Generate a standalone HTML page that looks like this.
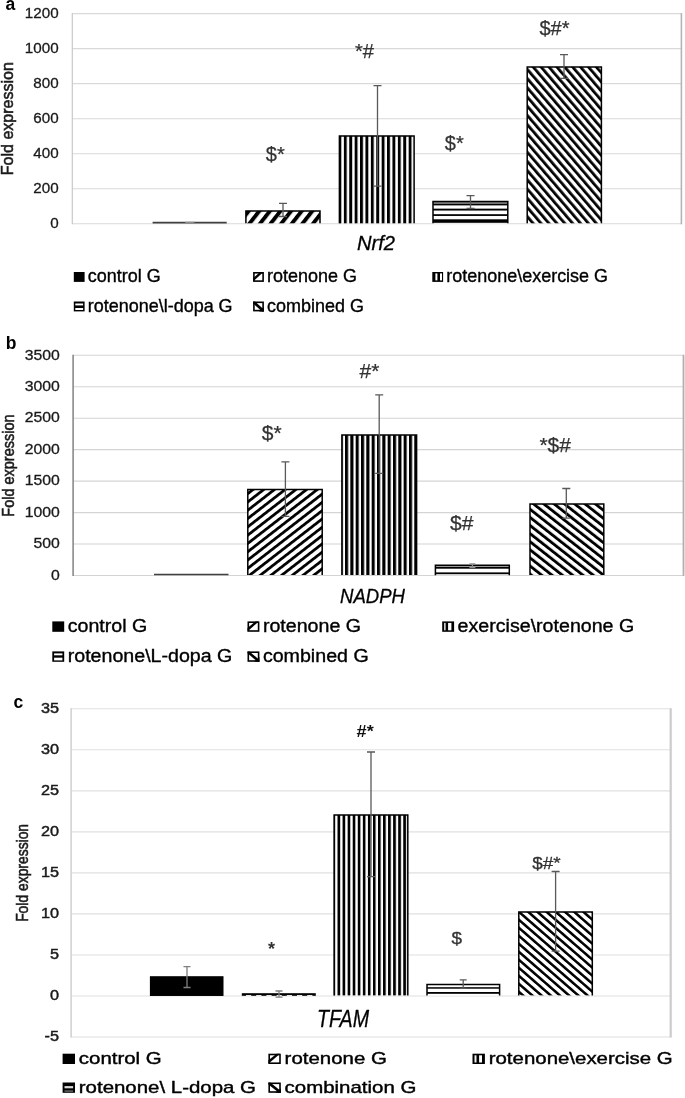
<!DOCTYPE html>
<html><head><meta charset="utf-8"><title>Figure</title>
<style>html,body{margin:0;padding:0;background:#fff;}body>svg{display:block;font-family:"Liberation Sans",sans-serif;filter:blur(0.35px);}</style>
</head><body>
<svg width="685" height="1098" viewBox="0 0 685 1098" font-family="Liberation Sans, sans-serif">
<rect width="685" height="1098" fill="#fff"/>
<defs>
<pattern id="aF" patternUnits="userSpaceOnUse" width="8.337" height="10" patternTransform="rotate(38.14) translate(340.674,0)"><rect x="0" y="0" width="3.918" height="10" fill="#000"/></pattern>
<pattern id="aB" patternUnits="userSpaceOnUse" width="5.994" height="10" patternTransform="rotate(-40.65) translate(359.476,0)"><rect x="0" y="0" width="2.757" height="10" fill="#000"/></pattern>
<pattern id="bF" patternUnits="userSpaceOnUse" width="6.558" height="10" patternTransform="rotate(52.20) translate(547.097,0)"><rect x="0" y="0" width="2.754" height="10" fill="#000"/></pattern>
<pattern id="bB" patternUnits="userSpaceOnUse" width="6.367" height="10" patternTransform="rotate(-51.82) translate(-61.376,0)"><rect x="0" y="0" width="2.865" height="10" fill="#000"/></pattern>
<pattern id="cF" patternUnits="userSpaceOnUse" width="6.037" height="10" patternTransform="rotate(48.99) translate(-1.509,0)"><rect x="0" y="0" width="3.018" height="10" fill="#000"/></pattern>
<pattern id="cB" patternUnits="userSpaceOnUse" width="6.037" height="10" patternTransform="rotate(-48.99) translate(-336.756,0)"><rect x="0" y="0" width="2.535" height="10" fill="#000"/></pattern>
<pattern id="aV" patternUnits="userSpaceOnUse" x="338.45" width="5.4" height="10"><rect x="0" y="0" width="2.9" height="10" fill="#000"/></pattern>
<pattern id="bV" patternUnits="userSpaceOnUse" x="339.67" width="5.33" height="10"><rect x="0" y="0" width="3.1" height="10" fill="#000"/></pattern>
<pattern id="cV" patternUnits="userSpaceOnUse" x="332.44" width="5.06" height="10"><rect x="0" y="0" width="2.7" height="10" fill="#000"/></pattern>
<pattern id="aH" patternUnits="userSpaceOnUse" y="203.7" width="10" height="5.43"><rect x="0" y="0" width="10" height="1.9" fill="#000"/></pattern>
<pattern id="bH" patternUnits="userSpaceOnUse" y="567.0" width="10" height="5.5"><rect x="0" y="0" width="10" height="1.9" fill="#000"/></pattern>
<pattern id="cH" patternUnits="userSpaceOnUse" y="987.5" width="10" height="5.5"><rect x="0" y="0" width="10" height="1.9" fill="#000"/></pattern>
</defs>
<line x1="72.3" x2="681.4" y1="13.60" y2="13.60" stroke="#d9d9d9" stroke-width="1.1"/>
<line x1="72.3" x2="681.4" y1="48.63" y2="48.63" stroke="#d9d9d9" stroke-width="1.1"/>
<line x1="72.3" x2="681.4" y1="83.67" y2="83.67" stroke="#d9d9d9" stroke-width="1.1"/>
<line x1="72.3" x2="681.4" y1="118.70" y2="118.70" stroke="#d9d9d9" stroke-width="1.1"/>
<line x1="72.3" x2="681.4" y1="153.73" y2="153.73" stroke="#d9d9d9" stroke-width="1.1"/>
<line x1="72.3" x2="681.4" y1="188.77" y2="188.77" stroke="#d9d9d9" stroke-width="1.1"/>
<line x1="72.3" x2="681.4" y1="223.80" y2="223.80" stroke="#d9d9d9" stroke-width="1.1"/>
<line x1="72.3" x2="72.3" y1="13.10" y2="224.30" stroke="#c8c8c8" stroke-width="1.2"/>
<line x1="681.4" x2="681.4" y1="13.10" y2="224.30" stroke="#b3b3b3" stroke-width="1.6"/>
<text transform="translate(58.60,18.24) scale(1.000,1)" font-size="15.2" text-anchor="end" fill="#1a1a1a" font-weight="normal" font-style="normal"  stroke="#1a1a1a" stroke-width="0.3">1200</text>
<text transform="translate(58.60,53.27) scale(1.000,1)" font-size="15.2" text-anchor="end" fill="#1a1a1a" font-weight="normal" font-style="normal"  stroke="#1a1a1a" stroke-width="0.3">1000</text>
<text transform="translate(58.60,88.31) scale(1.000,1)" font-size="15.2" text-anchor="end" fill="#1a1a1a" font-weight="normal" font-style="normal"  stroke="#1a1a1a" stroke-width="0.3">800</text>
<text transform="translate(58.60,123.34) scale(1.000,1)" font-size="15.2" text-anchor="end" fill="#1a1a1a" font-weight="normal" font-style="normal"  stroke="#1a1a1a" stroke-width="0.3">600</text>
<text transform="translate(58.60,158.37) scale(1.000,1)" font-size="15.2" text-anchor="end" fill="#1a1a1a" font-weight="normal" font-style="normal"  stroke="#1a1a1a" stroke-width="0.3">400</text>
<text transform="translate(58.60,193.41) scale(1.000,1)" font-size="15.2" text-anchor="end" fill="#1a1a1a" font-weight="normal" font-style="normal"  stroke="#1a1a1a" stroke-width="0.3">200</text>
<text transform="translate(58.60,228.44) scale(1.000,1)" font-size="15.2" text-anchor="end" fill="#1a1a1a" font-weight="normal" font-style="normal"  stroke="#1a1a1a" stroke-width="0.3">0</text>
<text transform="translate(5.60,9.60) scale(1.000,1)" font-size="17.5" text-anchor="start" fill="#000" font-weight="bold" font-style="normal" >a</text>
<text transform="translate(13.30,118.70) rotate(-90) scale(1.000,1)" font-size="16" text-anchor="middle" fill="#1a1a1a" font-weight="normal" stroke="#1a1a1a" stroke-width="0.55">Fold expression</text>
<line x1="152.6" x2="226.7" y1="222.6" y2="222.6" stroke="#404040" stroke-width="1.6"/>
<line x1="185.2" x2="194.3" y1="222.6" y2="222.6" stroke="#8c8c8c" stroke-width="1.6"/>
<rect x="245.90" y="210.90" width="74.10" height="12.40" fill="white"/>
<rect x="245.90" y="210.90" width="74.10" height="12.40" fill="url(#aF)"/>
<path d="M245.90 223.30V210.90H320.00V223.30" fill="none" stroke="#000" stroke-width="1.5"/>
<rect x="339.40" y="135.90" width="74.70" height="87.40" fill="white"/>
<rect x="339.40" y="135.90" width="74.70" height="87.40" fill="url(#aV)"/>
<path d="M339.40 223.30V135.90H414.10V223.30" fill="none" stroke="#000" stroke-width="1.5"/>
<rect x="433.00" y="201.50" width="74.80" height="21.80" fill="white"/>
<rect x="433.00" y="201.50" width="74.80" height="2.20" fill="#808080"/>
<rect x="433.00" y="203.70" width="74.80" height="1.70" fill="#000"/>
<rect x="433.00" y="208.65" width="74.80" height="1.90" fill="#000"/>
<rect x="433.00" y="214.20" width="74.80" height="1.75" fill="#000"/>
<rect x="433.00" y="219.30" width="74.80" height="3.50" fill="#000"/>
<path d="M433.00 223.30V201.50H507.80V223.30" fill="none" stroke="#000" stroke-width="1.5"/>
<rect x="527.20" y="66.90" width="74.20" height="156.40" fill="white"/>
<rect x="527.20" y="66.90" width="74.20" height="156.40" fill="url(#aB)"/>
<path d="M527.20 223.30V66.90H601.40V223.30" fill="none" stroke="#000" stroke-width="1.5"/>
<path d="M283.00 203.40V216.50M279.00 203.40H287.00M279.00 216.50H287.00" stroke="#595959" stroke-width="1.3" fill="none"/>
<path d="M377.50 85.60V186.20M373.50 85.60H381.50M373.50 186.20H381.50" stroke="#595959" stroke-width="1.3" fill="none"/>
<path d="M470.50 195.60V208.50M466.50 195.60H474.50M466.50 208.50H474.50" stroke="#595959" stroke-width="1.3" fill="none"/>
<path d="M564.00 54.60V78.30M560.00 54.60H568.00M560.00 78.30H568.00" stroke="#595959" stroke-width="1.3" fill="none"/>
<text transform="translate(265.80,160.50) scale(1.000,1)" font-size="20" text-anchor="start" fill="#333" font-weight="normal" font-style="normal"  stroke="#333" stroke-width="0.25">$*</text>
<text transform="translate(354.90,58.30) scale(1.000,1)" font-size="20" text-anchor="start" fill="#333" font-weight="normal" font-style="normal"  stroke="#333" stroke-width="0.25">*#</text>
<text transform="translate(444.80,150.00) scale(1.000,1)" font-size="20" text-anchor="start" fill="#333" font-weight="normal" font-style="normal"  stroke="#333" stroke-width="0.25">$*</text>
<text transform="translate(539.40,34.80) scale(1.000,1)" font-size="20" text-anchor="start" fill="#333" font-weight="normal" font-style="normal"  stroke="#333" stroke-width="0.25">$#*</text>
<text transform="translate(357.00,250.30) scale(1.008,1)" font-size="20" text-anchor="start" fill="#000" font-weight="normal" font-style="italic"  stroke="#000" stroke-width="0.3">Nrf2</text>
<rect x="73.80" y="272.00" width="10.80" height="9.90" fill="#000"/>
<text transform="translate(87.80,282.30) scale(1.015,1)" font-size="17.7" text-anchor="start" fill="#000" font-weight="normal" font-style="normal"  stroke="#000" stroke-width="0.35">control G</text>
<rect x="253.10" y="272.00" width="10.80" height="9.90" fill="#fff"/>
<path d="M253.10 278.22L260.04 272.00H263.44L253.10 281.62z" fill="#000"/>
<rect x="253.90" y="272.80" width="9.20" height="8.30" fill="none" stroke="#000" stroke-width="1.6"/>
<text transform="translate(267.10,282.30) scale(1.015,1)" font-size="17.7" text-anchor="start" fill="#000" font-weight="normal" font-style="normal"  stroke="#000" stroke-width="0.35">rotenone G</text>
<rect x="432.30" y="272.00" width="10.80" height="9.90" fill="#000"/>
<rect x="435.40" y="273.40" width="2.00" height="7.00" fill="#fff"/>
<rect x="440.00" y="273.40" width="2.00" height="7.00" fill="#fff"/>
<text transform="translate(446.30,282.30) scale(1.015,1)" font-size="17.7" text-anchor="start" fill="#000" font-weight="normal" font-style="normal"  stroke="#000" stroke-width="0.35">rotenone\exercise G</text>
<rect x="73.80" y="301.50" width="10.80" height="9.90" fill="#000"/>
<rect x="75.30" y="303.50" width="7.80" height="1.90" fill="#fff"/>
<rect x="75.30" y="308.00" width="7.80" height="2.00" fill="#fff"/>
<text transform="translate(87.80,311.80) scale(1.015,1)" font-size="17.7" text-anchor="start" fill="#000" font-weight="normal" font-style="normal"  stroke="#000" stroke-width="0.35">rotenone\l-dopa G</text>
<rect x="253.10" y="301.50" width="10.80" height="9.90" fill="#fff"/>
<path d="M253.10 301.50H255.00L263.90 309.50V311.40H262.00L253.10 303.40z" fill="#000"/>
<path d="M263.90 311.40H259.04L263.90 306.94z" fill="#000"/>
<rect x="253.90" y="302.30" width="9.20" height="8.30" fill="none" stroke="#000" stroke-width="1.6"/>
<text transform="translate(267.10,311.80) scale(1.015,1)" font-size="17.7" text-anchor="start" fill="#000" font-weight="normal" font-style="normal"  stroke="#000" stroke-width="0.35">combined G</text>
<line x1="73.1" x2="683.5" y1="355.30" y2="355.30" stroke="#d4d4d4" stroke-width="1.1"/>
<line x1="73.1" x2="683.5" y1="386.76" y2="386.76" stroke="#d4d4d4" stroke-width="1.1"/>
<line x1="73.1" x2="683.5" y1="418.21" y2="418.21" stroke="#d4d4d4" stroke-width="1.1"/>
<line x1="73.1" x2="683.5" y1="449.67" y2="449.67" stroke="#d4d4d4" stroke-width="1.1"/>
<line x1="73.1" x2="683.5" y1="481.13" y2="481.13" stroke="#d4d4d4" stroke-width="1.1"/>
<line x1="73.1" x2="683.5" y1="512.59" y2="512.59" stroke="#d4d4d4" stroke-width="1.1"/>
<line x1="73.1" x2="683.5" y1="544.04" y2="544.04" stroke="#d4d4d4" stroke-width="1.1"/>
<line x1="73.1" x2="683.5" y1="575.50" y2="575.50" stroke="#d4d4d4" stroke-width="1.1"/>
<line x1="73.1" x2="73.1" y1="354.80" y2="576.00" stroke="#8a8a8a" stroke-width="1.6"/>
<line x1="683.5" x2="683.5" y1="354.80" y2="576.00" stroke="#b0b0b0" stroke-width="1.8"/>
<text transform="translate(59.80,359.53) scale(1.080,1)" font-size="14.6" text-anchor="end" fill="#1a1a1a" font-weight="normal" font-style="normal"  stroke="#1a1a1a" stroke-width="0.3">3500</text>
<text transform="translate(59.80,390.98) scale(1.080,1)" font-size="14.6" text-anchor="end" fill="#1a1a1a" font-weight="normal" font-style="normal"  stroke="#1a1a1a" stroke-width="0.3">3000</text>
<text transform="translate(59.80,422.44) scale(1.080,1)" font-size="14.6" text-anchor="end" fill="#1a1a1a" font-weight="normal" font-style="normal"  stroke="#1a1a1a" stroke-width="0.3">2500</text>
<text transform="translate(59.80,453.90) scale(1.080,1)" font-size="14.6" text-anchor="end" fill="#1a1a1a" font-weight="normal" font-style="normal"  stroke="#1a1a1a" stroke-width="0.3">2000</text>
<text transform="translate(59.80,485.36) scale(1.080,1)" font-size="14.6" text-anchor="end" fill="#1a1a1a" font-weight="normal" font-style="normal"  stroke="#1a1a1a" stroke-width="0.3">1500</text>
<text transform="translate(59.80,516.81) scale(1.080,1)" font-size="14.6" text-anchor="end" fill="#1a1a1a" font-weight="normal" font-style="normal"  stroke="#1a1a1a" stroke-width="0.3">1000</text>
<text transform="translate(59.80,548.27) scale(1.080,1)" font-size="14.6" text-anchor="end" fill="#1a1a1a" font-weight="normal" font-style="normal"  stroke="#1a1a1a" stroke-width="0.3">500</text>
<text transform="translate(59.80,579.73) scale(1.080,1)" font-size="14.6" text-anchor="end" fill="#1a1a1a" font-weight="normal" font-style="normal"  stroke="#1a1a1a" stroke-width="0.3">0</text>
<text transform="translate(5.80,349.30) scale(1.000,1)" font-size="17.5" text-anchor="start" fill="#000" font-weight="bold" font-style="normal" >b</text>
<text transform="translate(13.80,465.60) rotate(-90) scale(0.905,1)" font-size="16" text-anchor="middle" fill="#1a1a1a" font-weight="normal" stroke="#1a1a1a" stroke-width="0.55">Fold expression</text>
<line x1="154.0" x2="228.5" y1="574.6" y2="574.6" stroke="#404040" stroke-width="1.5"/>
<rect x="247.80" y="489.40" width="74.40" height="85.60" fill="white"/>
<rect x="247.80" y="489.40" width="74.40" height="85.60" fill="url(#bF)"/>
<path d="M247.80 575.00V489.40H322.20V575.00" fill="none" stroke="#000" stroke-width="1.5"/>
<rect x="341.90" y="435.10" width="74.70" height="139.90" fill="white"/>
<rect x="341.90" y="435.10" width="74.70" height="139.90" fill="url(#bV)"/>
<path d="M341.90 575.00V435.10H416.60V575.00" fill="none" stroke="#000" stroke-width="1.5"/>
<rect x="435.40" y="565.30" width="73.90" height="9.90" fill="white"/>
<rect x="435.40" y="565.30" width="73.90" height="1.70" fill="#9a9a9a"/>
<rect x="435.40" y="567.00" width="73.90" height="1.70" fill="#000"/>
<rect x="435.40" y="572.40" width="73.90" height="1.80" fill="#000"/>
<path d="M435.40 575.20V565.30H509.30V575.20" fill="none" stroke="#000" stroke-width="1.5"/>
<rect x="530.00" y="504.00" width="73.80" height="71.00" fill="white"/>
<rect x="530.00" y="504.00" width="73.80" height="71.00" fill="url(#bB)"/>
<path d="M530.00 575.00V504.00H603.80V575.00" fill="none" stroke="#000" stroke-width="1.5"/>
<path d="M285.40 461.80V516.40M281.40 461.80H289.40M281.40 516.40H289.40" stroke="#595959" stroke-width="1.3" fill="none"/>
<path d="M379.20 394.80V473.40M375.20 394.80H383.20M375.20 473.40H383.20" stroke="#595959" stroke-width="1.3" fill="none"/>
<path d="M472.40 564.00V567.40M469.40 564.00H475.40M469.40 567.40H475.40" stroke="#8c8c8c" stroke-width="1.3" fill="none"/>
<path d="M566.30 488.50V518.10M562.30 488.50H570.30M562.30 518.10H570.30" stroke="#595959" stroke-width="1.3" fill="none"/>
<text transform="translate(261.80,440.30) scale(1.000,1)" font-size="21" text-anchor="start" fill="#333" font-weight="normal" font-style="normal"  stroke="#333" stroke-width="0.25">$*</text>
<text transform="translate(359.60,378.30) scale(1.000,1)" font-size="21" text-anchor="start" fill="#333" font-weight="normal" font-style="normal"  stroke="#333" stroke-width="0.25">#*</text>
<text transform="translate(450.00,530.30) scale(1.000,1)" font-size="21" text-anchor="start" fill="#333" font-weight="normal" font-style="normal"  stroke="#333" stroke-width="0.25">$#</text>
<text transform="translate(539.40,452.30) scale(1.000,1)" font-size="21" text-anchor="start" fill="#333" font-weight="normal" font-style="normal"  stroke="#333" stroke-width="0.25">*$#</text>
<text transform="translate(340.00,603.00) scale(0.942,1)" font-size="19.7" text-anchor="start" fill="#000" font-weight="normal" font-style="italic"  stroke="#000" stroke-width="0.3">NADPH</text>
<rect x="52.30" y="621.40" width="11.90" height="10.40" fill="#000"/>
<text transform="translate(67.70,632.40) scale(1.122,1)" font-size="17.5" text-anchor="start" fill="#000" font-weight="normal" font-style="normal"  stroke="#000" stroke-width="0.35">control G</text>
<rect x="247.50" y="621.40" width="11.90" height="10.40" fill="#fff"/>
<path d="M247.50 628.02L255.32 621.40H258.72L247.50 631.42z" fill="#000"/>
<rect x="248.30" y="622.20" width="10.30" height="8.80" fill="none" stroke="#000" stroke-width="1.6"/>
<text transform="translate(262.90,632.40) scale(1.122,1)" font-size="17.5" text-anchor="start" fill="#000" font-weight="normal" font-style="normal"  stroke="#000" stroke-width="0.35">rotenone G</text>
<rect x="442.20" y="621.40" width="11.90" height="10.40" fill="#000"/>
<rect x="444.00" y="622.90" width="1.70" height="7.40" fill="#c8c8c8"/>
<rect x="448.10" y="622.90" width="3.30" height="7.40" fill="#fff"/>
<text transform="translate(457.60,632.40) scale(1.122,1)" font-size="17.5" text-anchor="start" fill="#000" font-weight="normal" font-style="normal"  stroke="#000" stroke-width="0.35">exercise\rotenone G</text>
<rect x="52.30" y="651.40" width="11.90" height="10.40" fill="#000"/>
<rect x="54.10" y="653.40" width="8.30" height="1.90" fill="#fff"/>
<rect x="54.10" y="657.70" width="8.30" height="2.70" fill="#fff"/>
<text transform="translate(67.70,662.40) scale(1.122,1)" font-size="17.5" text-anchor="start" fill="#000" font-weight="normal" font-style="normal"  stroke="#000" stroke-width="0.35">rotenone\L-dopa G</text>
<rect x="247.50" y="651.40" width="11.90" height="10.40" fill="#fff"/>
<path d="M247.50 651.40H249.40L259.40 659.90V661.80H257.50L247.50 653.30z" fill="#000"/>
<path d="M259.40 661.80H254.04L259.40 657.12z" fill="#000"/>
<rect x="248.30" y="652.20" width="10.30" height="8.80" fill="none" stroke="#000" stroke-width="1.6"/>
<text transform="translate(262.90,662.40) scale(1.122,1)" font-size="17.5" text-anchor="start" fill="#000" font-weight="normal" font-style="normal"  stroke="#000" stroke-width="0.35">combined G</text>
<line x1="71.1" x2="670.7" y1="708.80" y2="708.80" stroke="#e0e0e0" stroke-width="1.1"/>
<line x1="71.1" x2="670.7" y1="749.82" y2="749.82" stroke="#e0e0e0" stroke-width="1.1"/>
<line x1="71.1" x2="670.7" y1="790.85" y2="790.85" stroke="#e0e0e0" stroke-width="1.1"/>
<line x1="71.1" x2="670.7" y1="831.88" y2="831.88" stroke="#e0e0e0" stroke-width="1.1"/>
<line x1="71.1" x2="670.7" y1="872.90" y2="872.90" stroke="#e0e0e0" stroke-width="1.1"/>
<line x1="71.1" x2="670.7" y1="913.92" y2="913.92" stroke="#e0e0e0" stroke-width="1.1"/>
<line x1="71.1" x2="670.7" y1="954.95" y2="954.95" stroke="#e0e0e0" stroke-width="1.1"/>
<line x1="71.1" x2="670.7" y1="995.98" y2="995.98" stroke="#e0e0e0" stroke-width="1.1"/>
<line x1="71.1" x2="670.7" y1="1037.00" y2="1037.00" stroke="#e0e0e0" stroke-width="1.1"/>
<line x1="71.1" x2="71.1" y1="708.30" y2="1037.50" stroke="#cfcfcf" stroke-width="1.5"/>
<line x1="670.7" x2="670.7" y1="708.30" y2="1037.50" stroke="#cccccc" stroke-width="2.2"/>
<text transform="translate(59.00,713.14) scale(1.070,1)" font-size="15.2" text-anchor="end" fill="#1a1a1a" font-weight="normal" font-style="normal"  stroke="#1a1a1a" stroke-width="0.45">35</text>
<text transform="translate(59.00,754.17) scale(1.070,1)" font-size="15.2" text-anchor="end" fill="#1a1a1a" font-weight="normal" font-style="normal"  stroke="#1a1a1a" stroke-width="0.45">30</text>
<text transform="translate(59.00,795.19) scale(1.070,1)" font-size="15.2" text-anchor="end" fill="#1a1a1a" font-weight="normal" font-style="normal"  stroke="#1a1a1a" stroke-width="0.45">25</text>
<text transform="translate(59.00,836.22) scale(1.070,1)" font-size="15.2" text-anchor="end" fill="#1a1a1a" font-weight="normal" font-style="normal"  stroke="#1a1a1a" stroke-width="0.45">20</text>
<text transform="translate(59.00,877.24) scale(1.070,1)" font-size="15.2" text-anchor="end" fill="#1a1a1a" font-weight="normal" font-style="normal"  stroke="#1a1a1a" stroke-width="0.45">15</text>
<text transform="translate(59.00,918.27) scale(1.070,1)" font-size="15.2" text-anchor="end" fill="#1a1a1a" font-weight="normal" font-style="normal"  stroke="#1a1a1a" stroke-width="0.45">10</text>
<text transform="translate(59.00,959.29) scale(1.070,1)" font-size="15.2" text-anchor="end" fill="#1a1a1a" font-weight="normal" font-style="normal"  stroke="#1a1a1a" stroke-width="0.45">5</text>
<text transform="translate(59.00,1000.32) scale(1.070,1)" font-size="15.2" text-anchor="end" fill="#1a1a1a" font-weight="normal" font-style="normal"  stroke="#1a1a1a" stroke-width="0.45">0</text>
<text transform="translate(59.00,1041.34) scale(1.070,1)" font-size="15.2" text-anchor="end" fill="#1a1a1a" font-weight="normal" font-style="normal"  stroke="#1a1a1a" stroke-width="0.45">-5</text>
<text transform="translate(13.60,708.00) scale(1.000,1)" font-size="17.5" text-anchor="start" fill="#000" font-weight="bold" font-style="normal" >c</text>
<text transform="translate(27.80,872.90) rotate(-90) scale(0.868,1)" font-size="16" text-anchor="middle" fill="#1a1a1a" font-weight="normal" stroke="#1a1a1a" stroke-width="0.55">Fold expression</text>
<rect x="149.9" y="976.2" width="73.6" height="19.77" fill="#000"/>
<rect x="241.8" y="993.2" width="74.0" height="2.6" fill="#000"/>
<line x1="246" x2="314" y1="995.5" y2="995.5" stroke="#fff" stroke-width="0.9" stroke-dasharray="5.2 5"/>
<rect x="334.10" y="815.00" width="73.70" height="180.38" fill="white"/>
<rect x="334.10" y="815.00" width="73.70" height="180.38" fill="url(#cV)"/>
<path d="M334.10 995.38V815.00H407.80V995.38" fill="none" stroke="#000" stroke-width="1.5"/>
<rect x="427.00" y="984.40" width="72.60" height="11.18" fill="white"/>
<rect x="427.00" y="987.20" width="72.60" height="1.50" fill="#000"/>
<rect x="427.00" y="992.00" width="72.60" height="1.80" fill="#000"/>
<path d="M427.00 995.58V984.40H499.60V995.58" fill="none" stroke="#000" stroke-width="1.5"/>
<rect x="518.80" y="911.90" width="73.50" height="83.48" fill="white"/>
<rect x="518.80" y="911.90" width="73.50" height="83.48" fill="url(#cB)"/>
<path d="M518.80 995.38V911.90H592.30V995.38" fill="none" stroke="#000" stroke-width="1.5"/>
<path d="M187.00 966.70V987.50M183.50 966.70H190.50M183.50 987.50H190.50" stroke="#7f7f7f" stroke-width="1.3" fill="none"/>
<path d="M279.00 991.00V997.20M275.50 991.00H282.50M275.50 997.20H282.50" stroke="#7f7f7f" stroke-width="1.3" fill="none"/>
<path d="M371.00 752.00V876.60M367.00 752.00H375.00M367.00 876.60H375.00" stroke="#595959" stroke-width="1.3" fill="none"/>
<path d="M463.20 979.90V988.40M459.70 979.90H466.70M459.70 988.40H466.70" stroke="#595959" stroke-width="1.3" fill="none"/>
<path d="M555.60 871.50V951.20M551.60 871.50H559.60M551.60 951.20H559.60" stroke="#595959" stroke-width="1.3" fill="none"/>
<text transform="translate(268.00,955.20) scale(1.000,1)" font-size="18" text-anchor="start" fill="#333" font-weight="bold" font-style="normal" >*</text>
<text transform="translate(356.60,737.00) scale(1.130,1)" font-size="16" text-anchor="start" fill="#111" font-weight="bold" font-style="normal" >#*</text>
<text transform="translate(451.50,943.80) scale(1.140,1)" font-size="16.6" text-anchor="start" fill="#333" font-weight="normal" font-style="normal"  stroke="#333" stroke-width="0.3">$</text>
<text transform="translate(532.20,868.70) scale(1.140,1)" font-size="16.6" text-anchor="start" fill="#333" font-weight="normal" font-style="normal"  stroke="#333" stroke-width="0.3">$#*</text>
<text transform="translate(317.00,1027.20) scale(0.840,1)" font-size="23.4" text-anchor="start" fill="#000" font-weight="normal" font-style="italic"  stroke="#000" stroke-width="0.3">TFAM</text>
<rect x="62.60" y="1053.70" width="12.40" height="10.30" fill="#000"/>
<text transform="translate(78.80,1064.10) scale(1.232,1)" font-size="16.6" text-anchor="start" fill="#000" font-weight="normal" font-style="normal"  stroke="#000" stroke-width="0.4">control G</text>
<rect x="268.40" y="1053.70" width="12.40" height="10.30" fill="#fff"/>
<path d="M268.40 1060.24L276.62 1053.70H280.02L268.40 1063.64z" fill="#000"/>
<rect x="269.20" y="1054.50" width="10.80" height="8.70" fill="none" stroke="#000" stroke-width="1.6"/>
<text transform="translate(284.60,1064.10) scale(1.232,1)" font-size="16.6" text-anchor="start" fill="#000" font-weight="normal" font-style="normal"  stroke="#000" stroke-width="0.4">rotenone G</text>
<rect x="472.50" y="1053.70" width="12.40" height="10.30" fill="#000"/>
<rect x="474.50" y="1055.30" width="2.00" height="7.20" fill="#f0f0f0"/>
<rect x="479.10" y="1055.30" width="2.90" height="7.20" fill="#fff"/>
<text transform="translate(488.70,1064.10) scale(1.232,1)" font-size="16.6" text-anchor="start" fill="#000" font-weight="normal" font-style="normal"  stroke="#000" stroke-width="0.4">rotenone\exercise G</text>
<rect x="62.60" y="1082.50" width="12.40" height="10.30" fill="#000"/>
<rect x="64.50" y="1086.10" width="8.60" height="2.20" fill="#dcdcdc"/>
<rect x="64.50" y="1090.20" width="8.60" height="1.90" fill="#555"/>
<text transform="translate(78.80,1092.80) scale(1.232,1)" font-size="16.6" text-anchor="start" fill="#000" font-weight="normal" font-style="normal"  stroke="#000" stroke-width="0.4">rotenone\ L-dopa G</text>
<rect x="268.40" y="1082.50" width="12.40" height="10.30" fill="#fff"/>
<path d="M268.40 1082.50H270.30L280.80 1090.90V1092.80H278.90L268.40 1084.40z" fill="#000"/>
<path d="M280.80 1092.80H275.22L280.80 1088.16z" fill="#000"/>
<rect x="269.20" y="1083.30" width="10.80" height="8.70" fill="none" stroke="#000" stroke-width="1.6"/>
<text transform="translate(284.60,1092.80) scale(1.232,1)" font-size="16.6" text-anchor="start" fill="#000" font-weight="normal" font-style="normal"  stroke="#000" stroke-width="0.4">combination G</text>
</svg>
</body></html>
